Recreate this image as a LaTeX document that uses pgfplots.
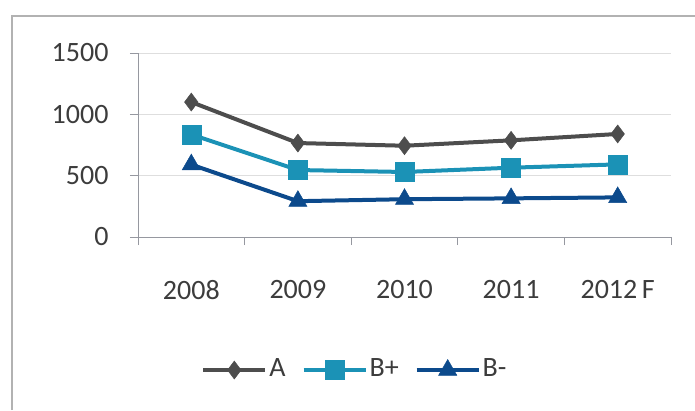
\documentclass[border=0pt]{standalone}
\usepackage{pgfplots}
\pgfplotsset{compat=1.18}
\usepackage{fontspec}
\setmainfont{Carlito}

\definecolor{cA}{RGB}{77,77,77}
\definecolor{cBp}{RGB}{27,146,182}
\definecolor{cBm}{RGB}{12,74,140}
\definecolor{axgray}{RGB}{150,152,160}
\definecolor{gridgray}{RGB}{222,222,222}
\definecolor{txt}{RGB}{60,60,60}

\begin{document}
\begin{tikzpicture}
\fontsize{28}{32}\selectfont
\useasboundingbox (-138pt,-173pt) rectangle (557pt,237pt);
% outer frame (left and top only visible)
\draw[gray!60, line width=1.8pt] (-126pt,-173pt) -- (-126pt,221pt) -- (557pt,221pt);

    \begin{axis}[
    scale only axis,
    width = 533pt,
    height= 184pt,
    xmin = -0.5, xmax = 4.5,
    ymin = 0, ymax = 1500,
    xtick = {0,1,2,3,4},
    xticklabels = {2008,2009,2010,2011,2012\,F},
    minor xtick = {-0.5,0.5,1.5,2.5,3.5,4.5},
    ytick = {0,500,1000,1500},
    major x tick style = {draw=none},
    tick align = outside,
    major tick length = 8pt,
    minor tick length = 8pt,
    every tick/.style = {axgray, line width=1pt},
    axis lines* = left,
    axis line style = {axgray, line width=1pt, -},
    ymajorgrids,
    grid style = {gridgray, line width=1pt},
    /pgf/number format/assume math mode=true,
    /pgf/number format/set thousands separator={},
    tick label style = {font=\fontsize{28}{32}\selectfont, text=txt},
    yticklabel style = {xshift=-12pt},
    xticklabel style = {yshift=-26pt},
    clip = false,
    legend columns = 3,
    legend style = {at={(0.407,-0.723)}, anchor=center, draw=none, fill=none,
        font=\fontsize{28}{32}\selectfont, text=txt,
        /tikz/every even column/.append style={column sep=14pt},
        inner sep=0pt},
    legend cell align = left,
    legend image code/.code={
        \draw[mark repeat=2, mark phase=2, #1]
        plot coordinates {(0pt,0pt) (31pt,0pt) (62pt,0pt)};
    },
]

% A
\addplot[cA, line width=4pt, mark=diamond*, mark size=9pt,
mark options={solid, line width=0.5pt}]
        coordinates {
			(0, 1100)
			(1, 766)
			(2, 744)
			(3, 788)
			(4, 840)
        };
\addlegendentry{A}

% B+
\addplot[cBp, line width=4pt, mark=square*, mark size=9.5pt,
mark options={solid, line width=0.5pt}]
        coordinates {
			(0, 836)
			(1, 546)
			(2, 530)
			(3, 565)
			(4, 592)
        };
\addlegendentry{B+}

% B-
\addplot[cBm, line width=4pt, mark=triangle*, mark size=10.5pt,
mark options={solid, line width=0.5pt}]
        coordinates {
			(0, 590)
			(1, 292)
			(2, 308)
			(3, 315)
			(4, 323)
        };
\addlegendentry{B-}

\end{axis}
\end{tikzpicture}
\end{document}
